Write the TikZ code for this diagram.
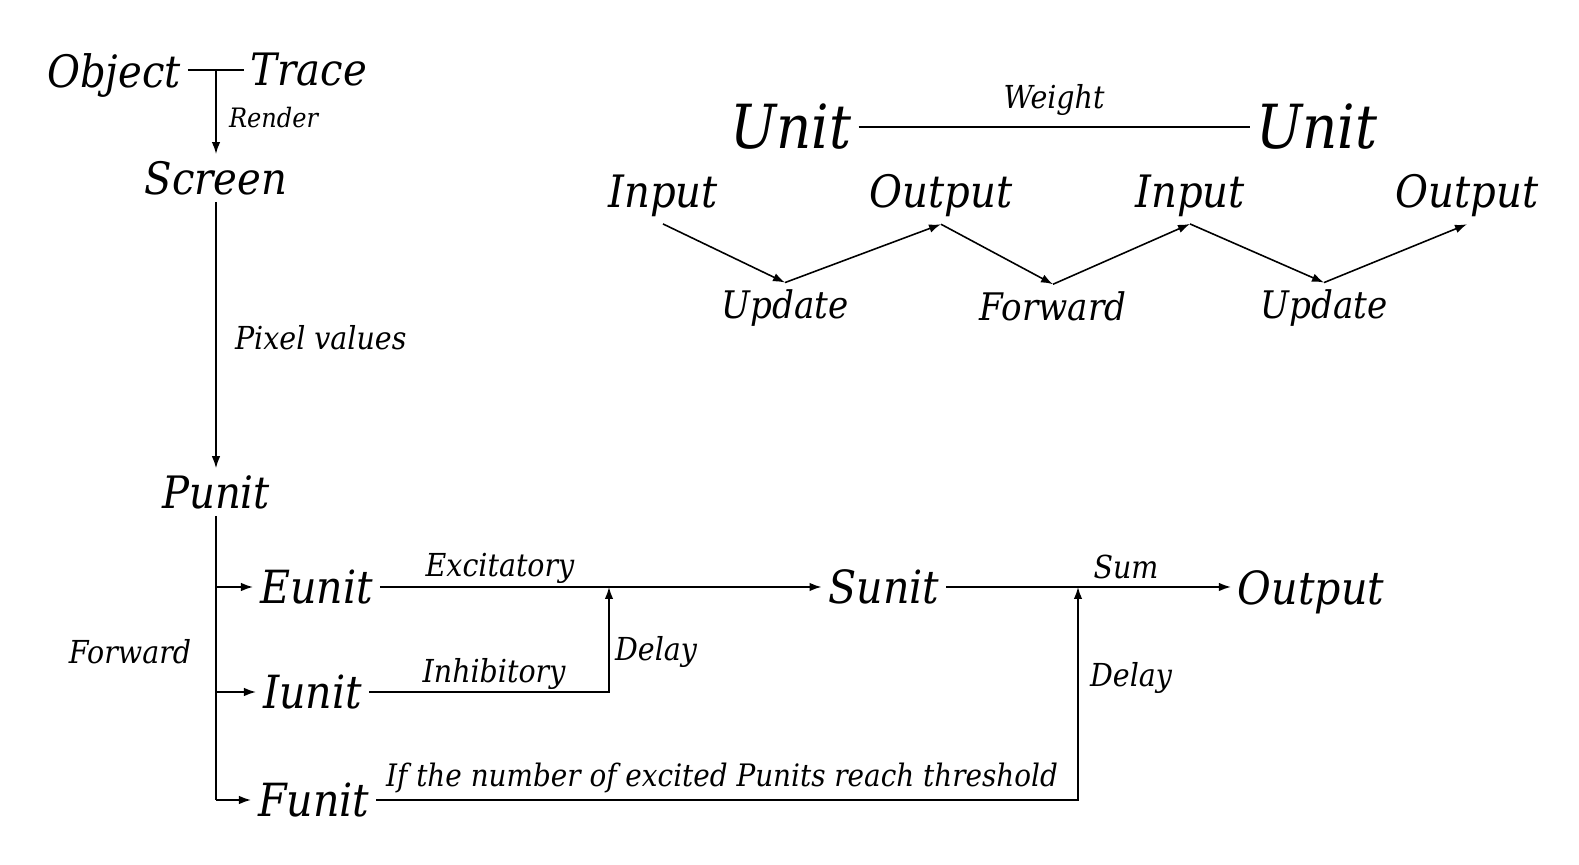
\documentclass[tikz,border=0pt]{standalone}
\usepackage{fontspec}
\setmainfont{DejaVu Serif}[FakeStretch=0.9]
\usepackage{tikz}
\usetikzlibrary{arrows.meta}
\usetikzlibrary{positioning}
\tikzset{
% Define standard arrow tip
>={Latex[length=0.12cm, width=0.085cm]}
}

\begin{document}
\begin{tikzpicture}[x=0.01cm, y=-0.01cm, line width=0.45pt, inner sep=2pt, outer sep=0,
    word/.style={font=\fontsize{12.7}{14}\selectfont\itshape},
    bigword/.style={font=\fontsize{17.3}{19}\selectfont\itshape},
    unitword/.style={font=\fontsize{13}{15}\selectfont\itshape},
    stepword/.style={font=\fontsize{10.8}{13}\selectfont\itshape},
    note/.style={font=\fontsize{9}{10}\selectfont\itshape}]
  \useasboundingbox (0,0) rectangle (1579,865);

  % object -> screen -> punit
  \node[word] (obj) at (114,76) {Object};
  \node[word] (trace) at (309,70) {Trace};
  \node[word] (scr) at (216,178) {Screen};
  \node[word] (pun) at (216,492) {Punit};
  \draw (obj.east |- trace.west) -- (trace.west);
  \draw[->] (scr.north |- trace.west) -- node[note, font=\fontsize{7.6}{9}\selectfont\itshape, right=0.06cm, anchor=west, yshift=-0.06cm]{Render} (scr.north);
  \draw[->] (scr.south) -- node[note, right=0.12cm, anchor=west, yshift=-0.03cm]{Pixel values} (pun.north);

  % unit -- unit
  \node[bigword] (unit1) at (791,127) {Unit};
  \node[bigword] (unit2) at (1317,127) {Unit};
  \draw (unit1.east) -- node[note, above=0.04cm]{Weight} (unit2.west);

  % input / output chain
  \node[word] (in1) at (663,196) {Input};
  \node[word] (out1) at (941,196) {Output};
  \node[word] (in2) at (1190,196) {Input};
  \node[word] (out2) at (1467,196) {Output};
  \node[stepword] (upd1) at (785,308) {Update};
  \node[stepword] (fwd) at (1053,306) {Forward};
  \node[stepword] (upd2) at (1324,308) {Update};
  \draw[->] (in1.south) -- (upd1.north);
  \draw[->] (upd1.north) -- (out1.south);
  \draw[->] (out1.south) -- (fwd.north);
  \draw[->] (fwd.north) -- (in2.south);
  \draw[->] (in2.south) -- (upd2.north);
  \draw[->] (upd2.north) -- (out2.south);

  % punit branches
  \node[unitword, anchor=west] (eun) at (253,587) {Eunit};
  \node[unitword, anchor=west] (iun) at (256,692) {Iunit};
  \node[unitword, anchor=west] (fun) at (251,800) {Funit};
  \node[unitword] (sun) at (884,587) {Sunit};
  \node[unitword] (res) at (1311,592) {Output};
  \draw (pun.south) -- (pun.south |- fun.west);
  \draw[->] (pun.south |- eun.west) -- (eun.west);
  \draw[->] (pun.south |- iun.west) -- (iun.west);
  \draw[->] (pun.south |- fun.west) -- (fun.west);
  \node[note] (fwdl) at (130,652) {Forward};

  \coordinate (d1) at (609,587);
  \coordinate (d2) at (1078,587);
  \draw[->] (eun.east) -- (sun.west);
  \draw[->] (iun.east) -| (d1);
  \draw[->] (fun.east) -| (d2);
  \draw[->] (sun.east) -- (sun.east -| res.west);

  \node[note] (exc) at (500,568) {Excitatory};
  \node[note] (inh) at (494,674) {Inhibitory};
  \node[note] (dly1) at (656,652) {Delay};
  \node[note] (dly2) at (1131,678) {Delay};
  \node[note] (sum) at (1126,567) {Sum};
  \node[note, font=\fontsize{8.8}{10}\selectfont\itshape] (thr) at (722,778) {If the number of excited Punits reach threshold};
\end{tikzpicture}
\end{document}
